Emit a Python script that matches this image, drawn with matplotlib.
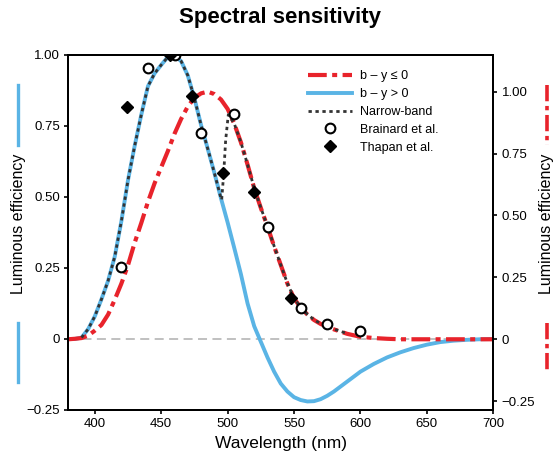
import matplotlib.pyplot as plt
from matplotlib.lines import Line2D

plt.rcParams['font.family'] = ['Liberation Sans', 'DejaVu Sans']

# b - y > 0 curve (left axis)
blue_wl = [380, 385, 390, 395, 400, 405, 410, 415, 420, 425, 430, 435, 440, 445, 450,
           455, 458, 460, 465, 470, 475, 480, 485, 490, 495, 500, 505, 510, 515, 520,
           525, 530, 535, 540, 545, 550, 555, 560, 565, 570, 575, 580, 590, 600, 610,
           620, 630, 640, 650, 660, 670, 680, 690, 700]
blue_val = [0, 0, 0.005, 0.035, 0.08, 0.14, 0.205, 0.29, 0.415, 0.56, 0.68, 0.79, 0.89, 0.935, 0.965,
            0.993, 1.0, 0.998, 0.978, 0.928, 0.847, 0.753, 0.67, 0.585, 0.495, 0.41, 0.32, 0.228, 0.125, 0.045,
            -0.01, -0.065, -0.115, -0.157, -0.185, -0.205, -0.215, -0.22, -0.219, -0.212, -0.2, -0.185, -0.15, -0.115, -0.088,
            -0.065, -0.047, -0.032, -0.02, -0.011, -0.006, -0.003, -0.001, 0]

# b - y <= 0 curve (right axis)
red_wl = [380, 385, 390, 395, 400, 405, 410, 415, 420, 425, 430, 435, 440, 445, 450,
          455, 460, 465, 470, 475, 480, 485, 490, 495, 500, 505, 510, 515, 520, 525,
          530, 535, 540, 545, 550, 555, 560, 565, 570, 575, 580, 590, 600, 610, 620,
          630, 700]
red_val = [0, 0.002, 0.005, 0.015, 0.035, 0.058, 0.10, 0.16, 0.225, 0.30, 0.39, 0.47, 0.555, 0.63, 0.695,
           0.76, 0.83, 0.89, 0.94, 0.975, 0.993, 1.0, 0.99, 0.968, 0.93, 0.87, 0.795, 0.705, 0.61, 0.53,
           0.455, 0.375, 0.30, 0.225, 0.165, 0.128, 0.10, 0.078, 0.062, 0.05, 0.04, 0.022, 0.01, 0.005, 0.002,
           0, 0]

# narrow-band (left axis)
nb_wl = [390, 395, 400, 405, 410, 415, 420, 425, 430, 435, 440, 445, 450, 455, 458, 460,
         465, 470, 475, 480, 485, 490, 495, 495.5, 497, 498.5, 500.5, 505, 510, 515, 520,
         525, 530, 535, 540, 545, 550, 555, 560, 565, 570, 575, 580, 590]
nb_val = [0.005, 0.035, 0.08, 0.14, 0.205, 0.29, 0.415, 0.56, 0.68, 0.79, 0.89, 0.935, 0.965, 0.993, 1.0, 0.998,
          0.978, 0.928, 0.847, 0.753, 0.67, 0.585, 0.495, 0.49, 0.58, 0.70, 0.79, 0.758, 0.692, 0.614, 0.531,
          0.462, 0.396, 0.327, 0.261, 0.196, 0.144, 0.111, 0.087, 0.068, 0.054, 0.044, 0.035, 0.019]

brainard_wl = [420, 440, 460.5, 480, 505, 530.5, 555, 575, 600]
brainard_val = [0.255, 0.953, 1.0, 0.727, 0.793, 0.396, 0.109, 0.054, 0.029]

thapan_wl = [424, 456.5, 472.8, 496.6, 520, 547.6]
thapan_val = [0.817, 1.0, 0.856, 0.586, 0.519, 0.144]

left_ticks = [-0.25, 0, 0.25, 0.5, 0.75, 1.0]
left_labels = ['\u22120.25', '0', '0.25', '0.50', '0.75', '1.00']
right_ticks = [-0.25, 0, 0.25, 0.5, 0.75, 1.0]
right_labels = ['\u22120.25', '0', '0.25', '0.50', '0.75', '1.00']
x_ticks = [400, 450, 500, 550, 600, 650, 700]

blue = '#5ab4e5'
red = '#e8232b'
dark = '#333333'
dashdot = (0, (4.5, 1.3, 1.2, 1.3))
dotted = (0, (1.2, 1.3))

fig = plt.figure(figsize=(5.55, 4.62), dpi=100)
ax = fig.add_axes([0.123, 0.1126, 0.7658, 0.7684])
ax2 = ax.twinx()

ax.set_xlim(380, 700)
ax.set_ylim(-0.25, 1.0)
ax2.set_ylim(-0.2855, 1.148)

ax.axhline(0, color='#bbbbbb', lw=1.3, ls=(0, (5, 3)), zorder=1)
ax.plot(blue_wl, blue_val, color=blue, lw=2.8, zorder=2)
# red belongs to right axis scale
ax.plot(red_wl, red_val, color=red, lw=3, ls=dashdot, transform=ax2.transData, zorder=3)
ax.plot(nb_wl, nb_val, color=dark, lw=2.0, ls=dotted, zorder=4)
ax.plot(brainard_wl, brainard_val, 'o', mfc='white', mec='black', mew=1.5, ms=7, zorder=5)
ax.plot(thapan_wl, thapan_val, 'D', color='black', ms=6.3, zorder=5)

ax.set_xticks(x_ticks)
ax.set_yticks(left_ticks)
ax.set_yticklabels(left_labels)
ax2.set_yticks(right_ticks)
ax2.set_yticklabels(right_labels)

for a in (ax, ax2):
    a.tick_params(direction='out', length=3, width=1.2, labelsize=9.5, pad=3)
    for s in a.spines.values():
        s.set_linewidth(1.4)
ax.set_xlabel('Wavelength (nm)', fontsize=12.5, labelpad=4)

fig.text(0.5054, 1 - 18 / 462, 'Spectral sensitivity', fontsize=16, fontweight='bold',
         ha='center', va='center')

fig.text(0.0333, 0.515, 'Luminous efficiency', rotation=90, fontsize=11.5, ha='center', va='center')
fig.text(0.985, 0.515, 'Luminous efficiency', rotation=90, fontsize=11.5, ha='center', va='center')
fig.add_artist(Line2D([0.033, 0.033], [0.816, 0.686], color=blue, lw=2.4))
fig.add_artist(Line2D([0.033, 0.033], [0.301, 0.173], color=blue, lw=2.4))
fig.add_artist(Line2D([0.985, 0.985], [0.816, 0.686], color=red, lw=2.6, ls=dashdot))
fig.add_artist(Line2D([0.985, 0.985], [0.301, 0.193], color=red, lw=2.6, ls=dashdot))

handles = [
    Line2D([], [], color=red, lw=3, ls=dashdot),
    Line2D([], [], color=blue, lw=2.8),
    Line2D([], [], color=dark, lw=2.0, ls=dotted),
    Line2D([], [], marker='o', ls='none', mfc='white', mec='black', mew=1.5, ms=7),
    Line2D([], [], marker='D', ls='none', color='black', ms=6.3),
]
labels = ['b \u2013 y \u2264 0', 'b \u2013 y > 0', 'Narrow-band', 'Brainard et al.', 'Thapan et al.']
ax2.legend(handles, labels, loc='upper left', bbox_to_anchor=(0.565, 0.957), frameon=False,
           fontsize=9, handlelength=3.5, handletextpad=0.65, labelspacing=0.47,
           borderpad=0, borderaxespad=0)

fig.savefig('out.png', dpi=100)
